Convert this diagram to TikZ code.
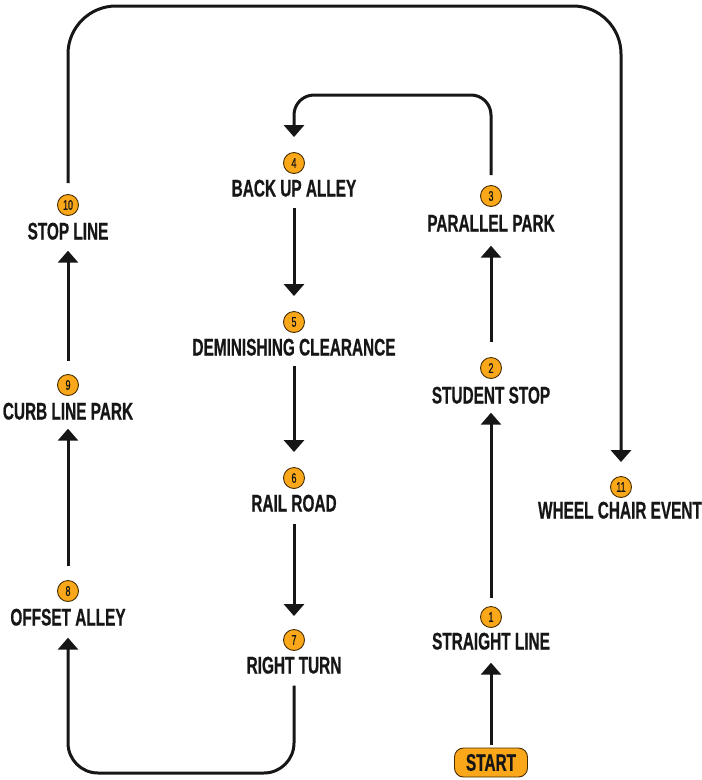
\documentclass[tikz,border=0pt]{standalone}
\usepackage{fontspec}
\usetikzlibrary{arrows.meta}
\newfontfamily\lblfont[FakeStretch=0.64,FakeBold=0.6]{Liberation Sans}
\definecolor{amber}{RGB}{250,168,26}
\definecolor{amberedge}{RGB}{70,45,0}
\definecolor{ink}{RGB}{22,22,22}
\tikzset{
  lbl/.style={inner sep=0pt, text height=17pt, text depth=0pt, text=ink,
    font=\lblfont\bfseries\fontsize{24}{26}\selectfont},
  num/.style={circle, fill=amber, draw=amberedge, line width=0.9pt,
    minimum size=21pt, inner sep=0pt, text=ink,
    font=\lblfont\fontsize{14}{15}\selectfont},
  startbox/.style={rounded corners=9pt, fill=amber, draw=amberedge, line width=0.9pt,
    minimum width=73pt, minimum height=29pt, inner sep=0pt, text=ink,
    font=\lblfont\bfseries\fontsize{24}{26}\selectfont},
  arr/.style={draw=ink, line width=3pt, -{Triangle[width=20pt,length=12pt]}}
}
\begin{document}
\begin{tikzpicture}[x=1pt,y=-1pt]
\useasboundingbox (0,0) rectangle (702,780);
% nodes
\node[startbox] (start) at (491,762.5) {START};
\node[num] (c1) at (491,617) {1};
\node[lbl] (t1) at (491,641) {STRAIGHT LINE};
\node[num] (c2) at (491,368) {2};
\node[lbl] (t2) at (491,395) {STUDENT STOP};
\node[num] (c3) at (491,196) {3};
\node[lbl] (t3) at (491,223) {PARALLEL PARK};
\node[num] (c4) at (294,163) {4};
\node[lbl] (t4) at (294,188) {BACK UP ALLEY};
\node[num] (c5) at (294,322) {5};
\node[lbl] (t5) at (294,347) {DEMINISHING CLEARANCE};
\node[num] (c6) at (294,478) {6};
\node[lbl] (t6) at (294,503) {RAIL ROAD};
\node[num] (c7) at (294,640) {7};
\node[lbl] (t7) at (294,665) {RIGHT TURN};
\node[num] (c8) at (68,591) {8};
\node[lbl] (t8) at (68,617) {OFFSET ALLEY};
\node[num] (c9) at (68,385) {9};
\node[lbl] (t9) at (68,411) {CURB LINE PARK};
\node[num] (c10) at (68,205) {10};
\node[lbl] (t10) at (68,231) {STOP LINE};
\node[num] (c11) at (621,487) {11};
\node[lbl] (t11) at (620,510) {WHEEL CHAIR EVENT};
% connectors
\draw[arr, shorten <=3pt, shorten >=13pt] (start.north) -- (t1.south);
\draw[arr, shorten <=8pt, shorten >=9pt] (c1.north) -- (t2.south);
\draw[arr, shorten <=15pt, shorten >=14pt] (c2.north) -- (t3.south);
\draw[arr, rounded corners=20pt, shorten >=15pt] ([yshift=10pt]c3.north) -- (c3.north |- 0,95) -- (c4.north |- 0,95) -- (c4.north);
\draw[arr, shorten <=11pt, shorten >=15pt] (t4.south) -- (c5.north);
\draw[arr, shorten <=10pt, shorten >=15pt] (t5.south) -- (c6.north);
\draw[arr, shorten <=12pt, shorten >=13pt] (t6.south) -- (c7.north);
\draw[arr, rounded corners=30pt, shorten >=12pt] ([yshift=-12pt]t7.south) -- (t7.south |- 0,773) -- (t8.south |- 0,773) -- (t8.south);
\draw[arr, shorten <=14pt, shorten >=9pt] (c8.north) -- (t9.south);
\draw[arr, shorten <=13pt, shorten >=11pt] (c9.north) -- (t10.south);
\draw[arr, rounded corners=48pt, shorten >=14pt] ([yshift=11pt]c10.north) -- (c10.north |- 0,6) -- (c11.north |- 0,6) -- (c11.north);
\end{tikzpicture}
\end{document}
